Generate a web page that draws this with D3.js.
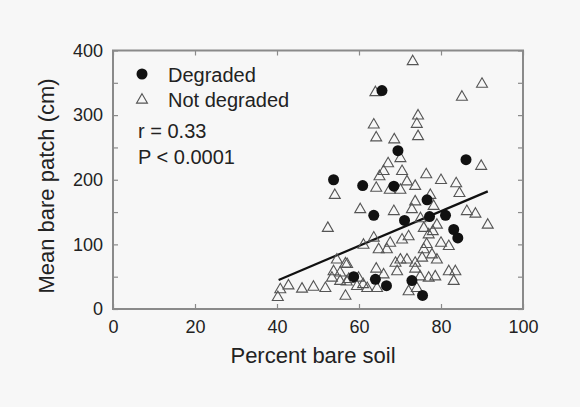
<!DOCTYPE html>
<html>
<head>
<meta charset="utf-8">
<script src="https://cdn.jsdelivr.net/npm/d3@7"></script>
<style>
  body { margin: 0; background: #f7f7f7; }
  svg { display: block; }
  text { font-family: "Liberation Sans", Arial, sans-serif; fill: #222; }
</style>
</head>
<body>
<div id="chart"></div>
<script>
// degraded sites, [percent bare soil, mean bare patch]
var degraded = [
  [65.6, 338], [69.5, 245], [86.1, 231], [53.8, 200], [60.9, 191],
  [68.5, 190], [63.6, 145], [71.1, 137], [77.2, 143], [81.1, 145],
  [83.1, 123], [84.1, 110], [58.7, 50], [64, 46], [66.7, 36],
  [72.9, 44], [75.5, 21], [76.6, 169]
];
// not degraded sites
var notDegraded = [
  [73.1, 383], [90, 348], [85.1, 328], [64, 335], [74.4, 299], [74.1, 286],
  [63.6, 285], [64.2, 265], [74.4, 267], [68.6, 262], [70.1, 233], [89.8, 221],
  [67.1, 225], [66, 213], [70.5, 213], [65, 205], [71.7, 197], [76.4, 208],
  [80, 199], [83.7, 194], [84.5, 179], [73.7, 190], [64.2, 187], [67.5, 184],
  [70.1, 184], [54.1, 176], [77.4, 176], [73.7, 166], [60.3, 154], [68.5, 151],
  [72.9, 154], [78.2, 159], [86.3, 151], [88.4, 147], [91.4, 130], [52.4, 125],
  [75.8, 125], [77, 115], [79, 130], [63.6, 110], [61.1, 99], [72.1, 112],
  [70.5, 107], [64.8, 92], [67.6, 102], [66.8, 92], [81.9, 97], [80, 102],
  [77.8, 84], [79, 76], [75.8, 92], [75.4, 79], [73.7, 71], [68.9, 71],
  [70.1, 76], [71.7, 76], [54.6, 76], [57.1, 69], [53.8, 58], [55.4, 56],
  [53.4, 48], [55.4, 43], [57.5, 46], [59.9, 48], [59.5, 35], [62, 32],
  [64.4, 32], [64.2, 62], [66, 53], [69.3, 58], [73.7, 62], [74.9, 50],
  [77, 48], [78.6, 50], [81.9, 58], [83.5, 58], [83.1, 43], [72.1, 27],
  [74.1, 32], [56.7, 20], [51.8, 32], [48.9, 34], [46.1, 31], [42.8, 36],
  [40.8, 30], [40.2, 18], [57, 42], [56.7, 70], [61, 38], [76.5, 100],
  [75, 140], [78, 120]
];
var fitSlope = 2.686, fitIntercept = -63.5, fitRange = [40.4, 91.4];
var stats = ["r = 0.33", "P < 0.0001"];
var legendLabels = ["Degraded", "Not degraded"];
var xTicks = [0, 20, 40, 60, 80, 100];
var yTicks = [0, 50, 100, 150, 200, 250, 300, 350, 400];
var yLabels = [0, 100, 200, 300, 400];

var width = 580, height = 407;
var m = { left: 113, right: 57, top: 50.5, bottom: 98 };

var svg = d3.select("#chart").append("svg")
  .attr("width", width)
  .attr("height", height);

var x = d3.scaleLinear().domain([0, 100]).range([m.left, width - m.right]);
var y = d3.scaleLinear().domain([0, 400]).range([height - m.bottom, m.top]);

var frame = "#8a8a8a";

function styleAxis(g) {
  g.selectAll(".domain").remove();
  g.selectAll("line").attr("stroke", frame).attr("stroke-width", 1.2);
  g.selectAll("text").attr("font-size", 18).attr("fill", "#222");
}

// ticks, pointing inward on all four sides
svg.append("g").attr("transform", "translate(" + m.left + ",0)")
  .call(d3.axisLeft(y).tickValues(yTicks).tickSize(-5).tickPadding(10)
    .tickFormat(function(d) { return yLabels.indexOf(d) >= 0 ? d : ""; }))
  .call(styleAxis);
svg.append("g").attr("transform", "translate(" + (width - m.right) + ",0)")
  .call(d3.axisRight(y).tickValues(yTicks).tickSize(-5).tickFormat(""))
  .call(styleAxis);
svg.append("g").attr("transform", "translate(0," + (height - m.bottom) + ")")
  .call(d3.axisBottom(x).tickValues(xTicks).tickSize(-5).tickPadding(11))
  .call(styleAxis);
svg.append("g").attr("transform", "translate(0," + m.top + ")")
  .call(d3.axisTop(x).tickValues(xTicks).tickSize(-5).tickFormat(""))
  .call(styleAxis);

svg.append("rect")
  .attr("x", x(0)).attr("y", y(400))
  .attr("width", x(100) - x(0)).attr("height", y(0) - y(400))
  .attr("fill", "none").attr("stroke", frame).attr("stroke-width", 2);

// axis titles
svg.append("text")
  .attr("x", 313).attr("y", 363)
  .attr("text-anchor", "middle").attr("font-size", 22)
  .text("Percent bare soil");
svg.append("text")
  .attr("transform", "translate(54,186) rotate(-90)")
  .attr("text-anchor", "middle").attr("font-size", 22)
  .text("Mean bare patch (cm)");

// regression line
svg.append("line")
  .attr("x1", x(fitRange[0])).attr("y1", y(fitSlope * fitRange[0] + fitIntercept))
  .attr("x2", x(fitRange[1])).attr("y2", y(fitSlope * fitRange[1] + fitIntercept))
  .attr("stroke", "#111").attr("stroke-width", 2.2);

var tri = d3.symbol().type(d3.symbolTriangle).size(52);

svg.append("g").selectAll("path")
  .data(notDegraded).join("path")
  .attr("d", tri)
  .attr("transform", function(d) { return "translate(" + x(d[0]) + "," + y(d[1]) + ")"; })
  .attr("fill", "none").attr("stroke", "#555").attr("stroke-width", 1.1);

svg.append("g").selectAll("circle")
  .data(degraded).join("circle")
  .attr("cx", function(d) { return x(d[0]); })
  .attr("cy", function(d) { return y(d[1]); })
  .attr("r", 5.5)
  .attr("fill", "#111");

// legend
var leg = svg.append("g");
leg.append("circle").attr("cx", 142).attr("cy", 74).attr("r", 5.5).attr("fill", "#111");
leg.append("path").attr("d", tri)
  .attr("transform", "translate(142,100)")
  .attr("fill", "none").attr("stroke", "#555").attr("stroke-width", 1.1);
leg.selectAll("text.lab").data(legendLabels).join("text")
  .attr("class", "lab")
  .attr("x", 168).attr("y", function(d, i) { return 82 + i * 24.5; })
  .attr("font-size", 20)
  .text(function(d) { return d; });
leg.selectAll("text.stat").data(stats).join("text")
  .attr("class", "stat")
  .attr("x", 138).attr("y", function(d, i) { return 138 + i * 26; })
  .attr("font-size", 20)
  .text(function(d) { return d; });
</script>
</body>
</html>
